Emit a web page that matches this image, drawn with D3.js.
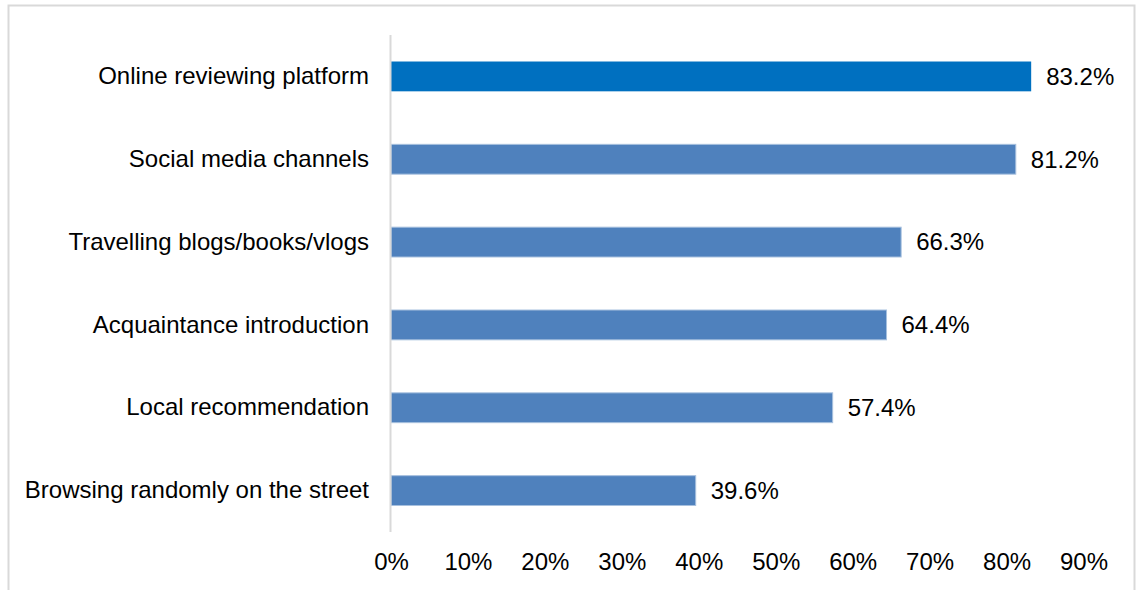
<!DOCTYPE html>
<html>
<head>
<meta charset="utf-8">
<script src="https://cdn.jsdelivr.net/npm/d3@7/dist/d3.min.js"></script>
<style>
  html, body { margin: 0; padding: 0; background: #fff; }
  svg { display: block; }
  text { font-family: "Liberation Sans", Arial, sans-serif; fill: #000; }
</style>
</head>
<body>
<svg id="chart" width="1136" height="590"></svg>
<script>
// Information sources used when choosing where to go
const categories = [
  "Online reviewing platform",
  "Social media channels",
  "Travelling blogs/books/vlogs",
  "Acquaintance introduction",
  "Local recommendation",
  "Browsing randomly on the street"
];
const values = [83.2, 81.2, 66.3, 64.4, 57.4, 39.6];
const tickValues = [0, 10, 20, 30, 40, 50, 60, 70, 80, 90];

const svg = d3.select("#chart");
const FONT = "24px";

// outer frame (bottom edge runs past the canvas)
svg.append("rect")
  .attr("x", 8.5).attr("y", 5.5)
  .attr("width", 1126).attr("height", 600)
  .attr("fill", "none").attr("stroke", "#d9d9d9").attr("stroke-width", 2);

const plot = { left: 391, right: 1083.5, top: 35, bottom: 532 };

const x = d3.scaleLinear().domain([0, 90]).range([plot.left, plot.right]);
const y = d3.scaleBand().domain(categories).range([plot.top, plot.bottom]).paddingInner(0.64).paddingOuter(0.32);

// bars
svg.append("g").selectAll("rect")
  .data(categories)
  .join("rect")
  .attr("x", x(0))
  .attr("y", d => y(d))
  .attr("width", (d, i) => x(values[i]) - x(0))
  .attr("height", y.bandwidth())
  .attr("fill", (d, i) => i === 0 ? "#0070C0" : "#4F81BD")
  .attr("stroke", (d, i) => i === 0 ? "none" : "#a7c0de")
  .attr("stroke-width", 1);

// vertical category axis line
svg.append("line")
  .attr("x1", plot.left - 0.5).attr("x2", plot.left - 0.5)
  .attr("y1", plot.top).attr("y2", plot.bottom)
  .attr("stroke", "#d9d9d9").attr("stroke-width", 2);

// category labels
const yAxis = d3.axisLeft(y).tickSize(0).tickPadding(22);
const gy = svg.append("g").attr("transform", `translate(${plot.left},0)`).call(yAxis);
gy.select(".domain").remove();
gy.selectAll("text").style("font-size", FONT).style("font-family", "Liberation Sans, Arial, sans-serif").attr("fill", "#000");

// value axis labels
const xAxis = d3.axisBottom(x).tickValues(tickValues).tickSize(0).tickPadding(20).tickFormat(d => d + "%");
const gx = svg.append("g").attr("transform", `translate(0,${plot.bottom + 1})`).call(xAxis);
gx.select(".domain").remove();
gx.selectAll("text").style("font-size", FONT).style("font-family", "Liberation Sans, Arial, sans-serif").attr("fill", "#000");

// value labels
svg.append("g").selectAll("text")
  .data(categories)
  .join("text")
  .attr("x", (d, i) => x(values[i]) + 15)
  .attr("y", d => y(d) + y.bandwidth() / 2)
  .attr("dy", "0.35em")
  .style("font-size", FONT)
  .text((d, i) => values[i].toFixed(1) + "%");
</script>
</body>
</html>
